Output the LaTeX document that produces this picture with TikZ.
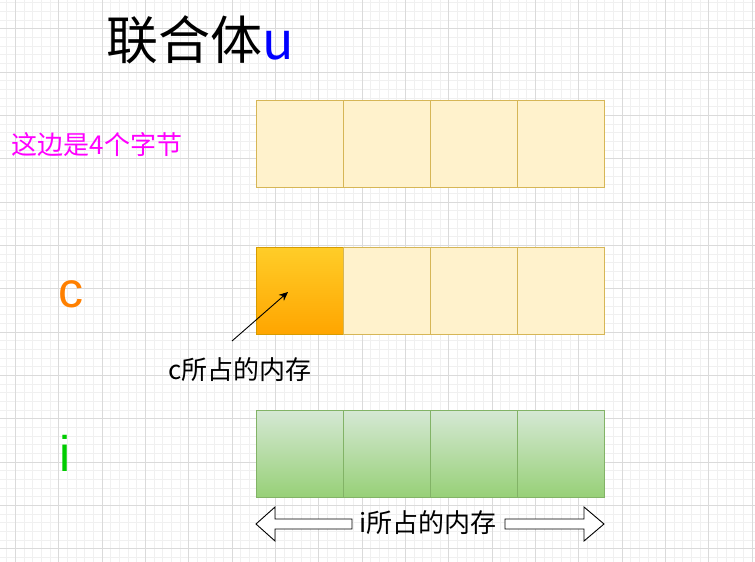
\documentclass[tikz,border=0pt]{standalone}
\usepackage{fontspec}
\setmainfont{Liberation Sans}
\newfontfamily\cjk{Noto Sans CJK SC}
\usetikzlibrary{arrows.meta}
\definecolor{cellfill}{HTML}{FFF2CC}
\definecolor{cellline}{HTML}{D6B656}
\definecolor{orgtop}{HTML}{FFCD28}
\definecolor{orgbot}{HTML}{FFA500}
\definecolor{orgline}{HTML}{D79B00}
\definecolor{grntop}{HTML}{D5E8D4}
\definecolor{grnbot}{HTML}{97D077}
\definecolor{grnline}{HTML}{82B366}
\definecolor{gridmajor}{HTML}{DADADA}
\definecolor{gridminor}{HTML}{F0F0F0}
\definecolor{magentatxt}{HTML}{FF00FF}
\definecolor{orangetxt}{HTML}{FF8000}
\definecolor{greentxt}{HTML}{00CC00}
\definecolor{bluetxt}{HTML}{0000FF}
\begin{document}
\begin{tikzpicture}[x=1pt,y=-1pt,
  cell/.style={draw=cellline, fill=cellfill, minimum width=87pt, minimum height=87pt, inner sep=0pt, line width=0.9pt, anchor=north west},
  ccell/.style={cell, draw=orgline, top color=orgtop, bottom color=orgbot},
  gcell/.style={cell, draw=grnline, top color=grntop, bottom color=grnbot},
  bigarrow/.style={draw=black, fill=white, line width=0.9pt, line join=miter},
  lbl/.style={inner sep=0pt, font=\cjk}]
\useasboundingbox (0,0) rectangle (755,562);
\fill[white] (0,0) rectangle (755,562);
% grid
\foreach \i in {0,...,86} {\draw[gridminor, line width=0.8pt] ({6.63+8.667*\i},0) -- ({6.63+8.667*\i},562);}
\foreach \i in {0,...,64} {\draw[gridminor, line width=0.8pt] (0,{2.7+8.667*\i}) -- (755,{2.7+8.667*\i});}
\foreach \i in {0,...,17} {\draw[gridmajor, line width=0.9pt] ({15.3+43.333*\i},0) -- ({15.3+43.333*\i},562);}
\foreach \i in {0,...,12} {\draw[gridmajor, line width=0.9pt] (0,{28.7+43.333*\i}) -- (755,{28.7+43.333*\i});}
% title
\node[lbl, font=\cjk\fontsize{52}{60}\selectfont] (title) at (200,40) {联合体\textcolor{bluetxt}{u}};
\node[lbl, text=magentatxt, font=\cjk\fontsize{26}{30}\selectfont] (bytes) at (97,145) {这边是4个字节};
% row 1
\node[cell] (a1) at (256,100) {};
\node[cell] (a2) at (343,100) {};
\node[cell] (a3) at (430,100) {};
\node[cell] (a4) at (517,100) {};
% row 2
\node[ccell] (b1) at (256,247) {};
\node[cell] (b2) at (343,247) {};
\node[cell] (b3) at (430,247) {};
\node[cell] (b4) at (517,247) {};
% row 3
\node[gcell] (c1) at (256,410) {};
\node[gcell] (c2) at (343,410) {};
\node[gcell] (c3) at (430,410) {};
\node[gcell] (c4) at (517,410) {};
% labels
\node[lbl, text=orangetxt, font=\fontsize{50}{60}\selectfont] (clbl) at (71,294) {c};
\node[lbl, text=greentxt, font=\fontsize{50}{60}\selectfont] (ilbl) at (65,453) {i};
\node[lbl, font=\cjk\fontsize{26}{30}\selectfont] (cmem) at (240,370) {c所占的内存};
\node[lbl, font=\cjk\fontsize{26}{30}\selectfont] (imem) at (428,523) {i所占的内存};
% small arrow
\coordinate (ctail) at (232,341);
\coordinate (chead) at (288,292);
\draw[line width=0.9pt, -{Stealth[length=9pt,width=8pt]}] (ctail) -- (chead);
% big arrows
\draw[bigarrow] (256,524) -- (275,507) -- (275,519) -- (352,519) -- (352,529) -- (275,529) -- (275,541) -- cycle;
\draw[bigarrow] (505,519) -- (584,519) -- (584,507) -- (604,524) -- (584,541) -- (584,529) -- (505,529) -- cycle;
\end{tikzpicture}
\end{document}
